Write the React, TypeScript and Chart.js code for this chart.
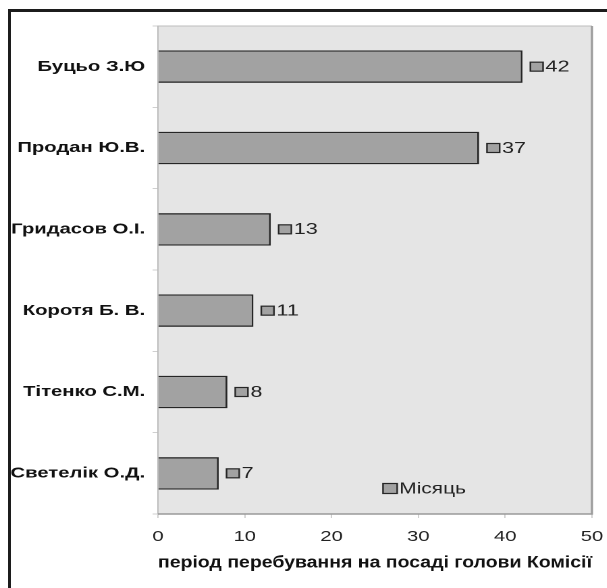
import { useEffect, useRef } from 'react';
import { Chart, registerables } from 'chart.js';

Chart.register(...registerables);

const categories = ['Буцьо З.Ю', 'Продан Ю.В.', 'Гридасов О.І.', 'Коротя Б. В.', 'Тітенко С.М.', 'Светелік О.Д.'];
const months = [42, 37, 13, 11, 8, 7];
const seriesLabel = 'Місяць';
const xTicks = [0, 10, 20, 30, 40, 50];
const xTitle = 'період перебування на посаді голови Комісії';

const SX = 1.35;
const W = 450;
const H = 588;
const FAMILY = '"Liberation Sans", Arial, sans-serif';
const BAR_FILL = '#a2a2a2';
const BAR_EDGE = '#262626';

const plotBg = {
  id: 'plotBg',
  beforeDatasetsDraw(chart: any) {
    const { ctx, chartArea: a } = chart;
    ctx.save();
    ctx.fillStyle = '#e5e5e5';
    ctx.fillRect(a.left, a.top, a.right - a.left, a.bottom - a.top);
    ctx.strokeStyle = '#bdbdbd';
    ctx.lineWidth = 1;
    ctx.beginPath();
    ctx.moveTo(a.left, a.bottom);
    ctx.lineTo(a.left, a.top);
    ctx.lineTo(a.right, a.top);
    ctx.stroke();
    ctx.strokeStyle = '#9a9a9a';
    ctx.lineWidth = 1.6;
    ctx.beginPath();
    ctx.moveTo(a.left, a.bottom);
    ctx.lineTo(a.right, a.bottom);
    ctx.lineTo(a.right, a.top);
    ctx.stroke();
    ctx.restore();
  },
};

const valueLabels = {
  id: 'valueLabels',
  afterDatasetsDraw(chart: any) {
    const { ctx } = chart;
    const meta = chart.getDatasetMeta(0);
    const data = chart.data.datasets[0].data as number[];
    ctx.save();
    meta.data.forEach((bar: any, i: number) => {
      const x = bar.x + 5.8;
      const y = bar.y;
      ctx.fillStyle = BAR_FILL;
      ctx.fillRect(x, y - 4.5, 9.4, 9);
      ctx.strokeStyle = BAR_EDGE;
      ctx.lineWidth = 1.2;
      ctx.strokeRect(x, y - 4.5, 9.4, 9);
      ctx.fillStyle = '#222';
      ctx.font = `16px ${FAMILY}`;
      ctx.textBaseline = 'middle';
      ctx.textAlign = 'left';
      ctx.fillText(String(data[i]), x + 11.2, y + 0.5);
    });
    ctx.restore();
  },
};

const legendBox = {
  id: 'legendBox',
  afterDraw(chart: any) {
    const { ctx, chartArea: a } = chart;
    const kx = a.left + 166.7;
    const cy = a.bottom - 25.5;
    ctx.save();
    ctx.fillStyle = BAR_FILL;
    ctx.fillRect(kx, cy - 5, 10.5, 10);
    ctx.strokeStyle = BAR_EDGE;
    ctx.lineWidth = 1.2;
    ctx.strokeRect(kx, cy - 5, 10.5, 10);
    ctx.fillStyle = '#222';
    ctx.font = `15.5px ${FAMILY}`;
    ctx.textBaseline = 'middle';
    ctx.textAlign = 'left';
    ctx.fillText(chart.data.datasets[0].label, kx + 12, cy + 0.5);
    ctx.restore();
  },
};

export default function App() {
  const ref = useRef<HTMLCanvasElement>(null);
  useEffect(() => {
    if (!ref.current) return;
    const chart = new Chart(ref.current, {
      type: 'bar',
      data: {
        labels: categories,
        datasets: [
          {
            label: seriesLabel,
            data: months,
            backgroundColor: BAR_FILL,
            borderColor: BAR_EDGE,
            borderWidth: 1.4,
            barPercentage: 0.4,
            categoryPercentage: 1,
          },
        ],
      },
      options: {
        indexAxis: 'y',
        responsive: false,
        animation: false,
        devicePixelRatio: 2,
        layout: { padding: { top: 26, right: 11.5, bottom: 0, left: 0 } },
        plugins: { legend: { display: false }, tooltip: { enabled: false } },
        scales: {
          x: {
            type: 'linear',
            min: 0,
            max: 50,
            afterBuildTicks: (s: any) => {
              s.ticks = xTicks.map((v) => ({ value: v }));
            },
            ticks: { padding: 10, color: '#222', font: { family: FAMILY, size: 15 } },
            grid: { drawOnChartArea: false, drawTicks: true, tickLength: 4, color: '#cfcfcf' },
            border: { display: false },
            title: {
              display: true,
              text: xTitle,
              color: '#111',
              font: { family: FAMILY, size: 17, weight: 'bold' },
              padding: { top: 0, bottom: 15 },
            },
            afterFit: (s: any) => {
              s.height = 74;
              s.paddingLeft = 0;
              s.paddingRight = 0;
            },
          },
          y: {
            type: 'category',
            ticks: { padding: 5.5, color: '#111', font: { family: FAMILY, size: 15, weight: 'bold' } },
            grid: { drawOnChartArea: false, drawTicks: true, tickLength: 4, color: '#cfcfcf', offset: true },
            border: { display: false },
            afterFit: (s: any) => {
              s.width = 117;
              s.paddingTop = 0;
              s.paddingBottom = 0;
            },
          },
        },
      },
      plugins: [plotBg, valueLabels, legendBox],
    } as any);
    return () => chart.destroy();
  }, []);

  return (
    <div style={{ position: 'fixed', left: 0, top: 0, width: 607, height: 588, background: '#fff', overflow: 'hidden' }}>
      <div
        style={{
          position: 'absolute',
          left: 8,
          top: 9,
          width: 700,
          height: 700,
          borderTop: '3px solid #1c1c1c',
          borderLeft: '3px solid #1c1c1c',
        }}
      />
      <div style={{ position: 'absolute', left: 0, top: 0, width: W, height: H, transform: `scaleX(${SX})`, transformOrigin: '0 0' }}>
        <canvas ref={ref} width={W} height={H} style={{ display: 'block', width: W, height: H }} />
      </div>
    </div>
  );
}
